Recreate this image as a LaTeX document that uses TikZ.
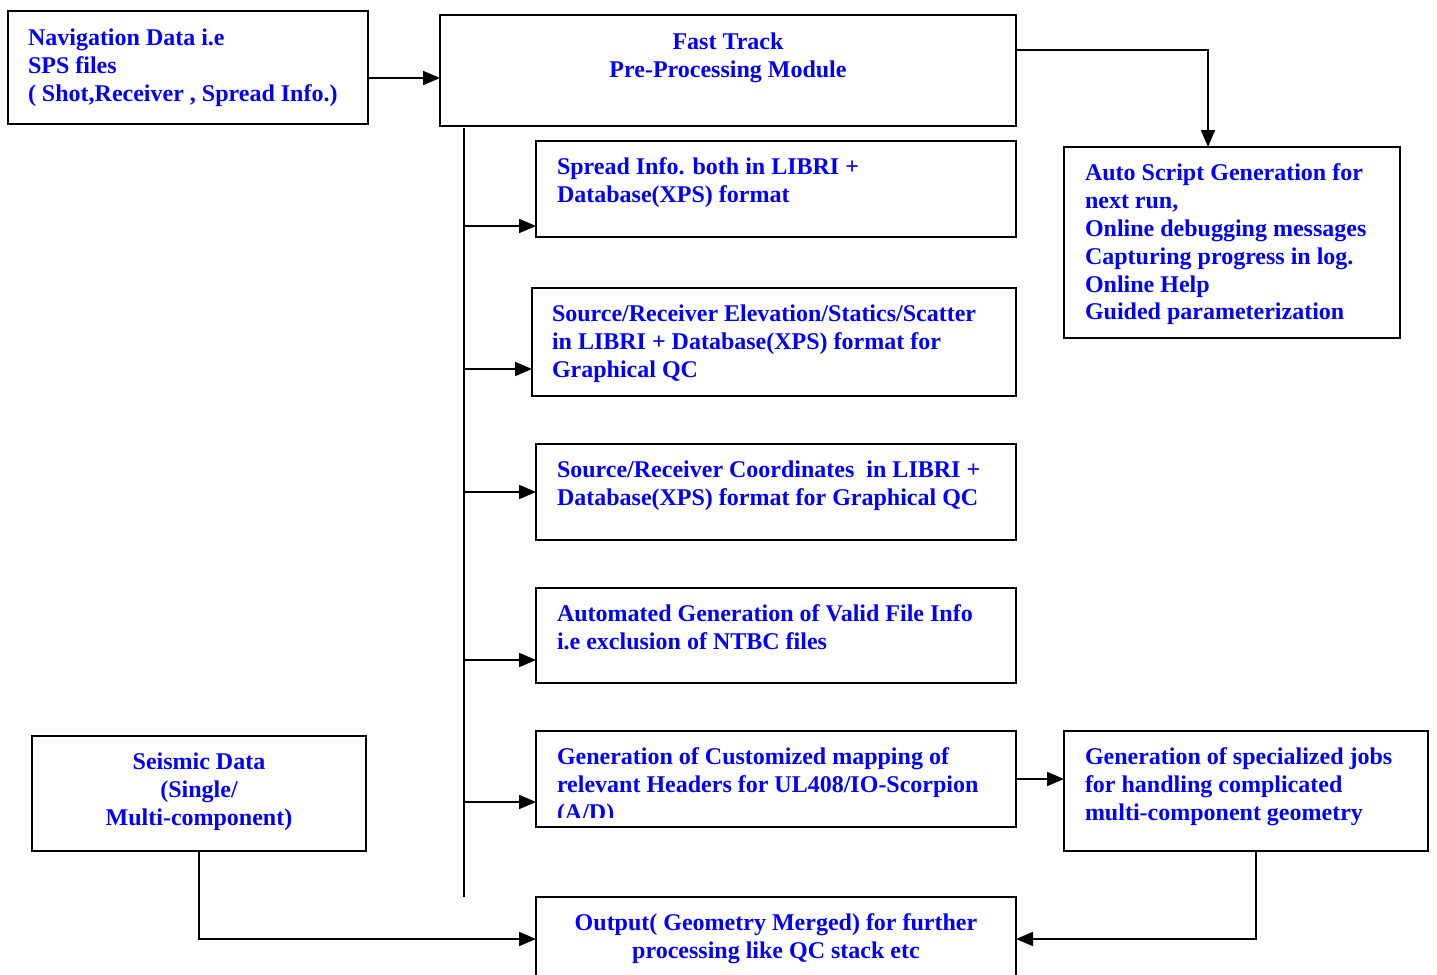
\documentclass[tikz,border=0pt]{standalone}
\usepackage{fontspec}
\setmainfont{Liberation Serif}
\usetikzlibrary{arrows.meta}
\begin{document}
\begin{tikzpicture}[x=0.5pt, y=-0.5pt, line width=1pt,
    font=\fontsize{12}{13.9}\selectfont\bfseries,
    >={Triangle[length=8.5pt, width=7pt]},
    box/.style={draw, anchor=north west, inner sep=0pt, outer sep=0pt},
    txt/.style={text=blue, align=left, anchor=north west, inner sep=0pt}]
    \clip (0,0) rectangle (1437,975);

    % boxes
    \node[box, minimum width=180pt, minimum height=56.5pt](nav) at (8,11) {};
    \node[box, minimum width=288pt, minimum height=55.5pt](fast) at (440,15) {};
    \node[box, minimum width=168pt, minimum height=95.5pt](auto) at (1064,147) {};
    \node[box, minimum width=240pt, minimum height=48pt](spread) at (536,141) {};
    \node[box, minimum width=242pt, minimum height=54pt](elev) at (532,288) {};
    \node[box, minimum width=240pt, minimum height=48pt](coords) at (536,444) {};
    \node[box, minimum width=240pt, minimum height=47.5pt](valid) at (536,588) {};
    \node[box, minimum width=240pt, minimum height=48pt](mapping) at (536,731) {};
    \node[box, minimum width=182pt, minimum height=60pt](special) at (1064,731) {};
    \node[box, minimum width=167pt, minimum height=57.5pt](seismic) at (32,736) {};
    \node[box, minimum width=240pt, minimum height=42pt](output) at (536,897) {};

    % texts
    \node[txt](navtxt) at (27,28) {Navigation Data i.e\\SPS files\\( Shot,Receiver , Spread Info.)};
    \node[txt, align=center, anchor=north](fasttxt) at (728,32) {Fast Track\\Pre-Processing Module};
    \node[txt](autotxt) at (1084,163) {Auto Script Generation for\\next run,\\Online debugging messages\\Capturing progress in log.\\Online Help\\Guided parameterization};
    \node[txt](spreadtxt) at (556,157) {Spread Info. both in LIBRI +\\Database(XPS) format};
    \node[txt](elevtxt) at (551,304) {Source/Receiver Elevation/Statics/Scatter\\in LIBRI + Database(XPS) format for\\Graphical QC};
    \node[txt](coordstxt) at (556,460) {Source/Receiver Coordinates\ \ in LIBRI +\\Database(XPS) format for Graphical QC};
    \node[txt](validtxt) at (556,604) {Automated Generation of Valid File Info\\i.e exclusion of NTBC files};
    \begin{scope}
        \clip (536,731) rectangle (1016,817);
        \node[txt](mappingtxt) at (556,747) {Generation of Customized mapping of\\relevant Headers for UL408/IO-Scorpion\\(A/D)};
    \end{scope}
    \node[txt](specialtxt) at (1084,747) {Generation of specialized jobs\\for handling complicated\\multi-component geometry};
    \node[txt, align=center, anchor=north](seismictxt) at (199,752) {Seismic Data\\(Single/\\Multi-component)};
    \node[txt, align=center, anchor=north](outputtxt) at (776,913) {Output( Geometry Merged) for further\\processing like QC stack etc};

    % connectors
    \coordinate (navout) at (368,78);
    \draw[->] (navout) -- (navout -| fast.west);
    \draw[->] ([yshift=10.25pt]fast.east) -| ([xshift=-12pt]auto.north);

    \coordinate (trunktop) at (464,128);
    \coordinate (trunkend) at (464,897);
    \draw (trunktop) -- (trunkend);
    \foreach \n/\y in {spread/226, elev/369, coords/492, valid/660, mapping/802} {
        \coordinate (br\n) at (464,\y);
        \draw[->] (br\n) -- (br\n -| \n.west);
        }

    \draw[->] (mapping.east) -- (mapping.east -| special.west);
    \draw[->] (seismic.south) |- (output.west);
    \draw[->] ([xshift=5pt]special.south) |- (output.east);
\end{tikzpicture}
\end{document}
